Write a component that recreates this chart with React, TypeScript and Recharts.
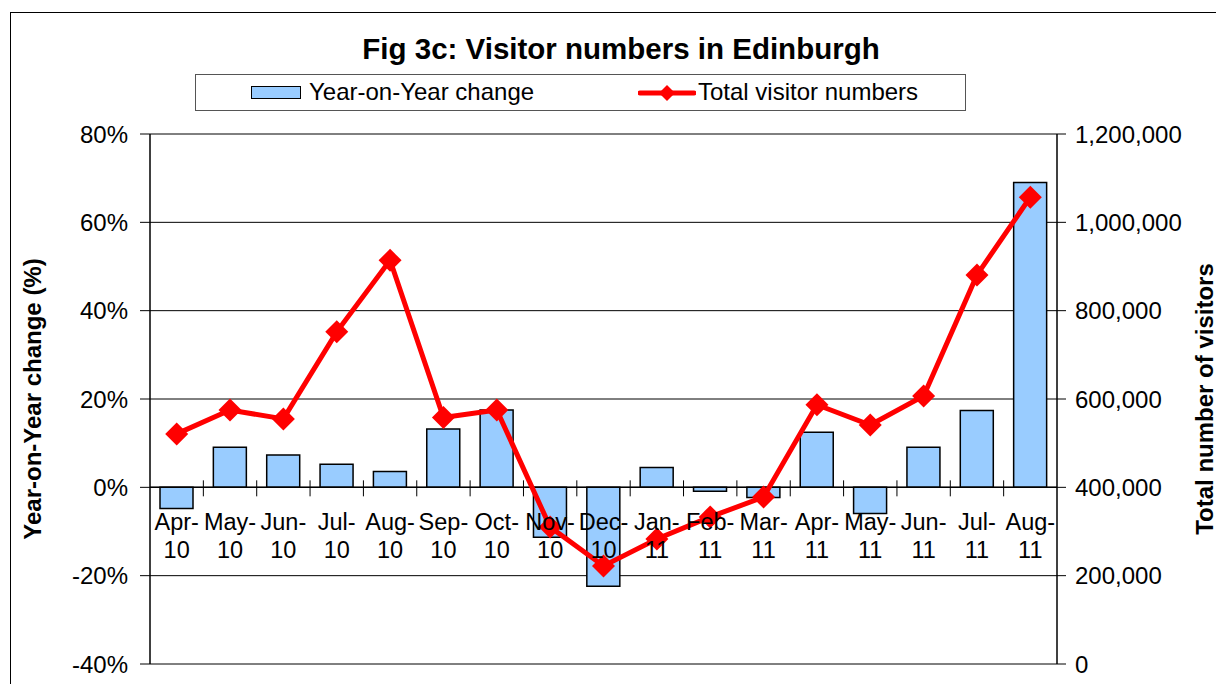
import React from 'react';
import {
  ComposedChart,
  XAxis,
  YAxis,
  CartesianGrid,
  ReferenceLine,
  Bar,
  Line,
} from 'recharts';

const months = [
  'Apr-10', 'May-10', 'Jun-10', 'Jul-10', 'Aug-10', 'Sep-10', 'Oct-10', 'Nov-10', 'Dec-10',
  'Jan-11', 'Feb-11', 'Mar-11', 'Apr-11', 'May-11', 'Jun-11', 'Jul-11', 'Aug-11',
];
const yoyChange = [
  -4.8, 9.1, 7.3, 5.2, 3.6, 13.2, 17.5, -11.3, -22.4, 4.5, -0.9, -2.3, 12.5, -5.9, 9.1, 17.4, 69.0,
];
const totalVisitors = [
  521000, 575000, 555000, 752000, 914000, 558000, 575000, 310000, 222000,
  283000, 333000, 378000, 587000, 541000, 607000, 881000, 1057000,
];
const leftTicks = [-40, -20, 0, 20, 40, 60, 80];
const rightTicks = [0, 200000, 400000, 600000, 800000, 1000000, 1200000];

const W = 1216;
const H = 684;
const PLOT_TOP = 134;
const PLOT_LEFT = 150;
const PLOT_RIGHT = 1057;
const PLOT_BOTTOM = 664;
const ZERO_Y = PLOT_TOP + ((PLOT_BOTTOM - PLOT_TOP) * 80) / 120;
const BAND = (PLOT_RIGHT - PLOT_LEFT) / months.length;
const FONT = '"Liberation Sans", Arial, sans-serif';

const data = months.map((month, i) => ({
  month,
  yoy: yoyChange[i],
  visitors: totalVisitors[i],
}));

function MonthTick({ x, payload, index }: any) {
  const [mon, yr] = String(payload.value).split('-');
  return (
    <g>
      {index > 0 && (
        <line x1={x - BAND / 2} x2={x - BAND / 2} y1={ZERO_Y - 7} y2={ZERO_Y + 9} stroke="#000" strokeWidth={1} />
      )}
      <text x={x} y={ZERO_Y + 43} textAnchor="middle" fontSize={23.5} fontFamily={FONT} fill="#000">
        {mon + '-'}
      </text>
      <text x={x} y={ZERO_Y + 71} textAnchor="middle" fontSize={23.5} fontFamily={FONT} fill="#000">
        {yr}
      </text>
    </g>
  );
}

function Diamond({ cx, cy }: any) {
  if (cx == null || cy == null) return null;
  const r = 11.5;
  return (
    <polygon
      points={`${cx},${cy - r} ${cx + r},${cy} ${cx},${cy + r} ${cx - r},${cy}`}
      fill="#FF0000"
      stroke="none"
    />
  );
}

function AxisTitle({ viewBox, value, dx }: any) {
  const { x, y, height } = viewBox;
  const cx = x + dx;
  const cy = y + height / 2;
  return (
    <text
      x={cx}
      y={cy}
      transform={`rotate(-90 ${cx} ${cy})`}
      textAnchor="middle"
      dominantBaseline="central"
      fontSize={24}
      fontWeight="bold"
      fontFamily={FONT}
      fill="#000"
    >
      {value}
    </text>
  );
}

function LegendBox() {
  return (
    <div
      style={{
        position: 'absolute',
        left: 195,
        top: 74,
        width: 769,
        height: 35,
        border: '1px solid #555',
        fontFamily: FONT,
        fontSize: 24,
        color: '#000',
      }}
    >
      <div
        style={{
          position: 'absolute',
          left: 55,
          top: 11,
          width: 48,
          height: 11,
          background: '#99CCFF',
          border: '1.5px solid #000',
        }}
      />
      <div style={{ position: 'absolute', left: 113, top: 4, lineHeight: '26px' }}>Year-on-Year change</div>
      <svg style={{ position: 'absolute', left: 442, top: 6 }} width={58} height={24}>
        <line x1={2} x2={56} y1={12} y2={12} stroke="#FF0000" strokeWidth={5} strokeLinecap="round" />
        <polygon points="29,4 37,12 29,20 21,12" fill="#FF0000" />
      </svg>
      <div style={{ position: 'absolute', left: 502, top: 4, lineHeight: '26px' }}>Total visitor numbers</div>
    </div>
  );
}

export default function App() {
  const tickStyle = { fill: '#000', fontSize: 24, fontFamily: FONT };
  return (
    <div style={{ position: 'relative', width: W, height: H, overflow: 'hidden', background: '#fff' }}>
      <style>{'body{margin:0}'}</style>
      <div
        style={{
          position: 'absolute',
          left: 10,
          top: 12,
          width: 1400,
          height: 900,
          border: '1px solid #000',
          pointerEvents: 'none',
        }}
      />
      <div
        style={{
          position: 'absolute',
          left: 621,
          top: 32,
          transform: 'translateX(-50%)',
          whiteSpace: 'nowrap',
          fontFamily: FONT,
          fontWeight: 'bold',
          fontSize: 29.5,
          lineHeight: '34px',
          color: '#000',
        }}
      >
        Fig 3c: Visitor numbers in Edinburgh
      </div>
      <LegendBox />
      <ComposedChart
        width={W}
        height={H}
        data={data}
        margin={{ top: PLOT_TOP, right: 0, bottom: 0, left: 0 }}
      >
        <CartesianGrid vertical={false} stroke="#000" strokeWidth={1} yAxisId="left" />
        <XAxis
          dataKey="month"
          height={H - PLOT_BOTTOM}
          axisLine={false}
          tickLine={false}
          interval={0}
          tick={<MonthTick />}
        />
        <YAxis
          yAxisId="left"
          width={PLOT_LEFT}
          domain={[-40, 80]}
          ticks={leftTicks}
          tickFormatter={(v: number) => `${v}%`}
          tick={tickStyle}
          tickSize={10}
          tickMargin={12}
          axisLine={{ stroke: '#000', strokeWidth: 1.5 }}
          tickLine={{ stroke: '#000' }}
          label={<AxisTitle value="Year-on-Year change (%)" dx={32} />}
        />
        <YAxis
          yAxisId="right"
          orientation="right"
          width={W - PLOT_RIGHT}
          domain={[0, 1200000]}
          ticks={rightTicks}
          tickFormatter={(v: number) => v.toLocaleString('en-US')}
          tick={{ ...tickStyle, textAnchor: 'start' }}
          tickSize={9}
          tickMargin={9}
          axisLine={{ stroke: '#000', strokeWidth: 1.5 }}
          tickLine={{ stroke: '#000' }}
          label={<AxisTitle value="Total number of visitors" dx={147} />}
        />
        <ReferenceLine y={0} yAxisId="left" stroke="#000" strokeWidth={1.5} />
        <Bar
          dataKey="yoy"
          yAxisId="left"
          fill="#99CCFF"
          stroke="#000"
          strokeWidth={1.5}
          barSize={33}
          isAnimationActive={false}
        />
        <Line
          dataKey="visitors"
          yAxisId="right"
          type="linear"
          stroke="#FF0000"
          strokeWidth={5}
          dot={<Diamond />}
          activeDot={false}
          isAnimationActive={false}
        />
      </ComposedChart>
    </div>
  );
}
